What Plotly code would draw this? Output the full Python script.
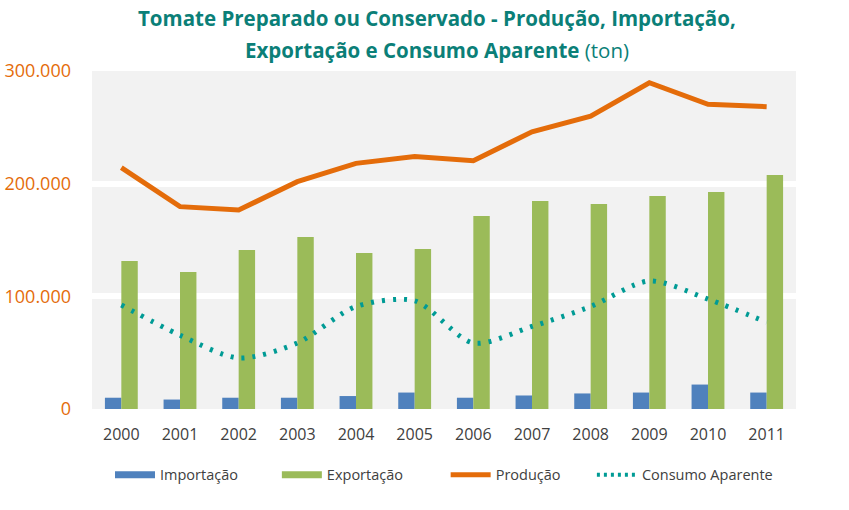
import plotly.graph_objects as go

years = ["2000", "2001", "2002", "2003", "2004", "2005", "2006", "2007", "2008", "2009", "2010", "2011"]
importacao = [10000, 8400, 10000, 10000, 11500, 14600, 10000, 12000, 13800, 14600, 21700, 14600]
exportacao = [131400, 121600, 141100, 152700, 138500, 142000, 171300, 184600, 182000, 189000, 192600, 207700]
producao = [214200, 179600, 176600, 201800, 218000, 224000, 220400, 246000, 260000, 289600, 270500, 268300]
consumo = [92300, 65500, 45300, 58600, 91000, 96000, 58600, 73300, 91000, 113600, 97500, 77000]

y_ticks = [0, 100000, 200000, 300000]
y_tick_labels = ["0", "100.000", "200.000", "300.000"]

C_IMP = "#4F81BD"
C_EXP = "#9BBB59"
C_PROD = "#E46C0A"
C_CONS = "#009B95"
TITLE_C = "#0B7F78"
TXT = "#404040"
FONT = "Open Sans"
NB = "\u00a0"

fig = go.Figure()
fig.add_trace(go.Bar(x=years, y=importacao, name="Importação", marker_color=C_IMP,
                     marker_line_width=0, showlegend=False))
fig.add_trace(go.Bar(x=years, y=exportacao, name="Exportação", marker_color=C_EXP,
                     marker_line_width=0, showlegend=False))
fig.add_trace(go.Scatter(x=years, y=producao, name="Produção", mode="lines",
                         line=dict(color=C_PROD, width=5), showlegend=False))
fig.add_trace(go.Scatter(x=years, y=consumo, name="Consumo Aparente", mode="lines",
                         line=dict(color=C_CONS, width=5, dash="3px,8px", shape="spline", smoothing=0.8),
                         showlegend=False))

# legend entries (thick strokes like the original legend keys)
fig.add_trace(go.Scatter(x=[None], y=[None], name="Importação" + NB * 9, mode="lines",
                         line=dict(color=C_IMP, width=7)))
fig.add_trace(go.Scatter(x=[None], y=[None], name="Exportação" + NB * 10, mode="lines",
                         line=dict(color=C_EXP, width=7)))
fig.add_trace(go.Scatter(x=[None], y=[None], name="Produção" + NB * 7, mode="lines",
                         line=dict(color=C_PROD, width=5)))
fig.add_trace(go.Scatter(x=[None], y=[None], name="Consumo Aparente", mode="lines",
                         line=dict(color=C_CONS, width=4, dash="3px,4px")))

fig.update_layout(
    width=849, height=510,
    margin=dict(l=92, r=53, t=71, b=101),
    paper_bgcolor="white",
    plot_bgcolor="#F2F2F2",
    barmode="group",
    bargap=0.44,
    bargroupgap=0,
    font=dict(family=FONT, color=TXT),
    showlegend=True,
    legend=dict(orientation="h", x=0.5, xanchor="center", y=-0.195, yanchor="middle",
                font=dict(size=14.5, color=TXT, family=FONT), itemwidth=40,
                traceorder="normal"),
    annotations=[
        dict(text="<b>Tomate Preparado ou Conservado - Produção, Importação,</b>",
             xref="paper", yref="paper", x=0.49, y=1.157, xanchor="center", yanchor="middle",
             showarrow=False, font=dict(size=20.5, color=TITLE_C, family=FONT)),
        dict(text="<b>Exportação e Consumo Aparente</b> (ton)",
             xref="paper", yref="paper", x=0.49, y=1.062, xanchor="center", yanchor="middle",
             showarrow=False, font=dict(size=20.5, color=TITLE_C, family=FONT)),
    ],
)
fig.update_xaxes(showgrid=False, showline=False, zeroline=False, ticks="", automargin=False,
                 tickfont=dict(size=16, color=TXT), ticklabelstandoff=14)
fig.update_yaxes(range=[0, 300000], tickvals=y_ticks, ticktext=y_tick_labels, automargin=False,
                 showgrid=True, gridcolor="white", gridwidth=6, zeroline=False, showline=False,
                 tickfont=dict(size=18, color=C_PROD), ticklabelstandoff=20)

fig.write_html("out.html", config={"displayModeBar": False},
               post_script="document.body.style.margin='0';")
